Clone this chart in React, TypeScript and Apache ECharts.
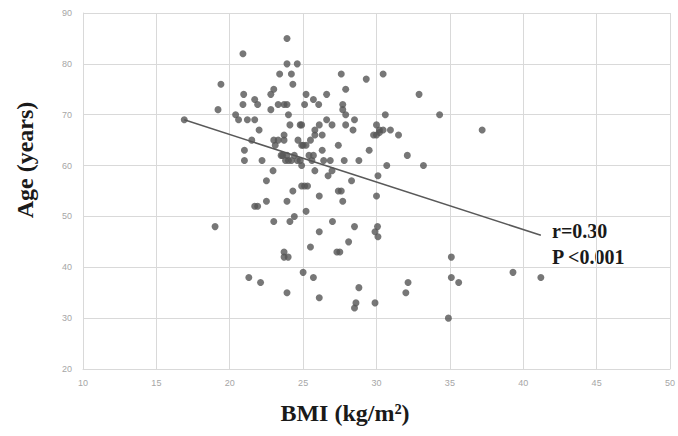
import React, { useEffect, useRef } from "react";
import * as echarts from "echarts";

// BMI (kg/m²) values
const bmi: number[] = [
  16.9, 19.0, 19.2, 19.4, 20.9, 20.4, 20.6, 20.9, 20.95, 21.2, 21.0, 21.0, 21.3, 21.5, 21.7, 21.9, 21.7,
  21.7, 21.9, 22.0, 22.2, 22.1, 22.5, 22.5, 22.8, 23.0, 22.8, 22.95, 23.0, 23.1, 23.0, 23.3, 23.3, 23.4,
  23.5, 23.7, 23.7, 23.7, 23.9, 23.7, 23.7, 23.98, 23.9, 23.9, 23.9, 23.9, 24.0, 24.1, 24.1, 24.2, 24.3,
  24.3, 24.4, 24.6, 23.8, 23.9, 24.2, 24.4, 24.6, 24.65, 24.8, 24.9, 24.9, 25.0, 24.9, 24.9, 25.1, 25.3,
  25.1, 25.2, 25.2, 25.2, 25.0, 25.4, 25.5, 25.5, 25.6, 25.7, 25.7, 25.7, 25.8, 25.8, 25.8, 26.06, 26.1,
  26.1, 26.1, 26.1, 26.3, 26.3, 26.4, 26.6, 26.6, 26.7, 26.85, 26.97, 26.97, 27.0, 27.3, 27.5, 27.4, 27.4,
  27.6, 27.6, 27.7, 27.7, 27.7, 27.8, 27.9, 27.9, 27.9, 28.1, 28.3, 28.4, 28.5, 28.5, 28.5, 28.6, 28.8,
  28.8, 29.3, 29.5, 29.9, 29.9, 29.8, 30.0, 30.0, 30.07, 30.1, 30.0, 30.1, 30.2, 30.2, 30.45, 30.45, 30.6,
  30.7, 30.95, 31.5, 32.1, 32.0, 32.15, 32.9, 33.2, 34.3, 34.9, 35.1, 35.1, 35.6, 37.2, 39.3, 41.2,
  24.0, 24.8, 23.6,
];

// Age (years) values
const age: number[] = [
  69, 48, 71, 76, 82, 70, 69, 72, 74, 69, 63, 61, 38, 65, 73, 72, 69,
  52, 52, 67, 61, 37, 53, 57, 74, 75, 71, 59, 65, 64, 49, 65, 72, 78,
  62, 66, 65, 72, 72, 43, 42, 42, 35, 53, 85, 80, 70, 68, 49, 78, 76,
  55, 50, 80, 61, 62, 61, 62, 61, 65, 68, 68, 64, 64, 60, 56, 56, 56,
  72, 74, 64, 51, 39, 62, 44, 65, 61, 62, 73, 38, 66, 67, 59, 72, 54,
  47, 34, 68, 66, 63, 61, 69, 74, 58, 61, 59, 68, 49, 43, 43, 64, 55,
  55, 78, 72, 71, 53, 61, 70, 68, 75, 45, 57, 67, 48, 69, 32, 33, 36,
  61, 77, 63, 33, 47, 66, 68, 66, 48, 46, 54, 58, 67, 66.5, 67, 78, 70,
  60, 67, 66, 62, 35, 37, 74, 60, 70, 30, 42, 38, 37, 67, 39, 38,
  61, 61, 62,
];

// Fitted regression line end points
const trendBmi: number[] = [16.9, 41.2];
const trendAge: number[] = [69, 46.3];

const xTicks = { min: 10, max: 50, interval: 5 };
const yTicks = { min: 20, max: 90, interval: 10 };

const annotationLines: string[] = ["r=0.30", "P <0.001"];
const xTitle = "BMI (kg/m²)";
const yTitle = "Age (years)";

export default function App() {
  const ref = useRef<HTMLDivElement>(null);

  useEffect(() => {
    if (!ref.current) return;
    const chart = echarts.init(ref.current, undefined, { renderer: "svg" });
    const points = bmi.map((b, i) => [b, age[i]]);
    const trend = trendBmi.map((b, i) => [b, trendAge[i]]);
    const gridColor = "#d9d9d9";
    const labelColor = "#a6a6a6";

    chart.setOption({
      animation: false,
      backgroundColor: "#ffffff",
      grid: { left: 83, right: 4, top: 13, bottom: 67 },
      xAxis: {
        type: "value",
        min: xTicks.min,
        max: xTicks.max,
        interval: xTicks.interval,
        axisLine: { show: true, lineStyle: { color: gridColor, width: 1 } },
        axisTick: { show: false },
        axisLabel: {
          color: labelColor,
          fontSize: 9,
          fontFamily: "Liberation Sans",
          margin: 9,
          showMaxLabel: true,
        },
        splitLine: { show: true, lineStyle: { color: gridColor, width: 1 } },
      },
      yAxis: {
        type: "value",
        min: yTicks.min,
        max: yTicks.max,
        interval: yTicks.interval,
        axisLine: { show: true, lineStyle: { color: gridColor, width: 1 } },
        axisTick: { show: false },
        axisLabel: {
          color: labelColor,
          fontSize: 9,
          fontFamily: "Liberation Sans",
          margin: 11,
        },
        splitLine: { show: true, lineStyle: { color: gridColor, width: 1 } },
      },
      series: [
        {
          type: "line",
          data: trend,
          symbol: "none",
          lineStyle: { color: "#595959", width: 1.5 },
          z: 2,
        },
        {
          type: "scatter",
          data: points,
          symbol: "circle",
          symbolSize: 7,
          itemStyle: { color: "#555555" },
          z: 3,
        },
      ],
      graphic: [
        {
          type: "text",
          x: 25,
          y: 160,
          rotation: Math.PI / 2,
          style: {
            text: yTitle,
            font: "bold 24px 'Liberation Serif'",
            fill: "#1a1a1a",
            textAlign: "center",
            textVerticalAlign: "middle",
          },
        },
        {
          type: "text",
          x: 345,
          y: 413,
          style: {
            text: xTitle,
            font: "bold 24px 'Liberation Serif'",
            fill: "#1a1a1a",
            textAlign: "center",
            textVerticalAlign: "middle",
          },
        },
        {
          type: "text",
          x: 552,
          y: 231,
          style: {
            text: annotationLines[0],
            font: "bold 20px 'Liberation Serif'",
            fill: "#1a1a1a",
            textAlign: "left",
            textVerticalAlign: "middle",
          },
        },
        {
          type: "text",
          x: 552,
          y: 257,
          style: {
            text: annotationLines[1],
            font: "bold 20px 'Liberation Serif'",
            fill: "#1a1a1a",
            textAlign: "left",
            textVerticalAlign: "middle",
          },
        },
      ],
    });

    return () => chart.dispose();
  }, []);

  return (
    <div
      ref={ref}
      style={{ position: "fixed", left: 0, top: 0, width: 678, height: 436, background: "#fff" }}
    />
  );
}
